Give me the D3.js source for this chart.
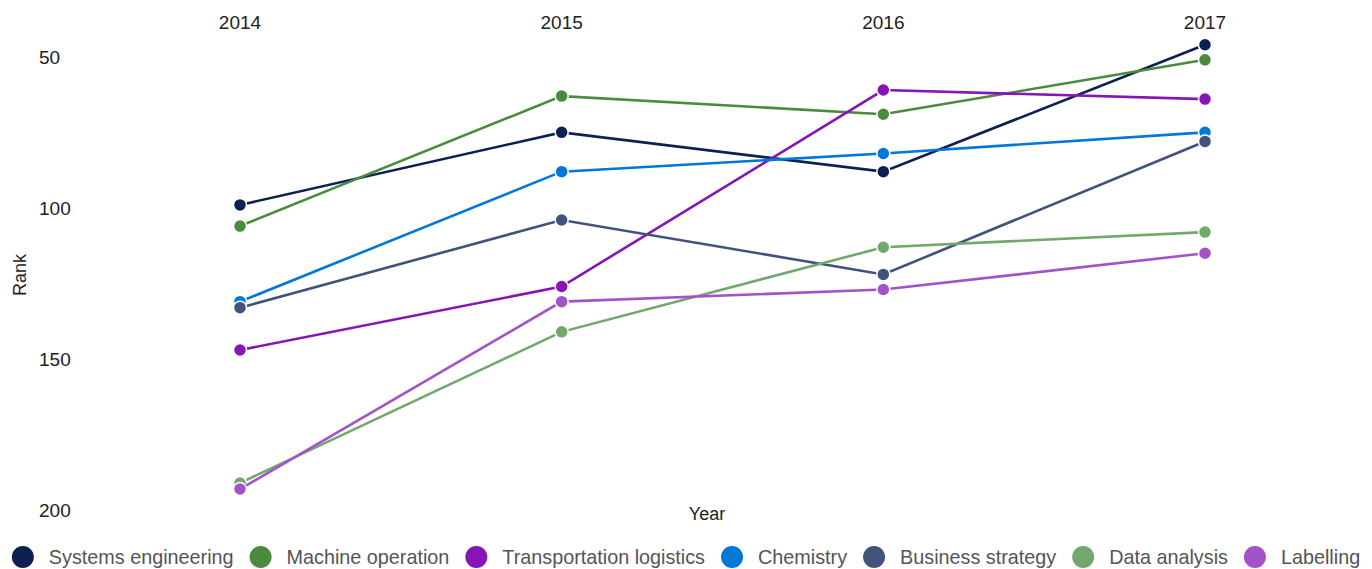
<!DOCTYPE html>
<html>
<head>
<meta charset="utf-8">
<script src="https://cdn.jsdelivr.net/npm/d3@7"></script>
<style>
  body { margin: 0; background: #fff; }
  svg { display: block; font-family: "Liberation Sans", Arial, sans-serif; }
</style>
</head>
<body>
<svg></svg>
<script>
// data
const years = [2014, 2015, 2016, 2017];
const yTicks = [50, 100, 150, 200];
const seriesNames = ["Systems engineering", "Machine operation", "Transportation logistics", "Chemistry", "Business strategy", "Data analysis", "Labelling"];
const systemsEngineering = [99, 75, 88, 46];
const machineOperation = [106, 63, 69, 51];
const transportationLogistics = [147, 126, 61, 64];
const chemistry = [131, 88, 82, 75];
const businessStrategy = [133, 104, 122, 78];
const dataAnalysis = [191, 141, 113, 108];
const labelling = [193, 131, 127, 115];
const seriesValues = [systemsEngineering, machineOperation, transportationLogistics, chemistry, businessStrategy, dataAnalysis, labelling];
const colors = ["#0c2152", "#4a8b3e", "#8515b5", "#0177d7", "#42537b", "#72a86c", "#a352c7"];

const W = 1372, H = 569;
const svg = d3.select("svg").attr("width", W).attr("height", H);

const x = d3.scalePoint().domain(years).range([240, 1205]);
const y = d3.scaleLinear().domain([50, 200]).range([56.8, 510.2]);

// top x axis labels
svg.append("g").selectAll("text").data(years).join("text")
  .attr("x", d => x(d)).attr("y", 29)
  .attr("text-anchor", "middle").attr("font-size", 19).attr("fill", "#222")
  .text(d => d);

// y axis labels, left aligned
svg.append("g").selectAll("text").data(yTicks).join("text")
  .attr("x", 39).attr("y", d => y(d)).attr("dy", "0.38em")
  .attr("font-size", 19).attr("fill", "#222")
  .text(d => d);

svg.append("text").attr("transform", "translate(26,275) rotate(-90)")
  .attr("text-anchor", "middle").attr("font-size", 18).attr("fill", "#222").text("Rank");
svg.append("text").attr("x", 707).attr("y", 520)
  .attr("text-anchor", "middle").attr("font-size", 18).attr("fill", "#222").text("Year");

const line = d3.line().x((d, i) => x(years[i])).y(d => y(d));

seriesValues.forEach((vals, k) => {
  const g = svg.append("g");
  g.append("path").datum(vals).attr("d", line)
    .attr("fill", "none").attr("stroke", colors[k]).attr("stroke-width", 2.6);
  g.selectAll("circle").data(vals).join("circle")
    .attr("cx", (d, i) => x(years[i])).attr("cy", d => y(d)).attr("r", 6.5)
    .attr("fill", colors[k]).attr("stroke", "#fff").attr("stroke-width", 1.5);
});

// legend
const legend = svg.append("g");
let lx = 0;
seriesNames.forEach((name, k) => {
  const item = legend.append("g").attr("transform", `translate(${lx},0)`);
  item.append("circle").attr("cx", 11).attr("cy", 0).attr("r", 11).attr("fill", colors[k]);
  const t = item.append("text").attr("x", 37).attr("y", 0).attr("dy", "0.35em")
    .attr("font-size", 19.8).attr("fill", "#555").text(name);
  lx += 37 + t.node().getComputedTextLength() + 16;
});
lx -= 16;
legend.attr("transform", `translate(${(W - lx) / 2},557)`);
</script>
</body>
</html>
